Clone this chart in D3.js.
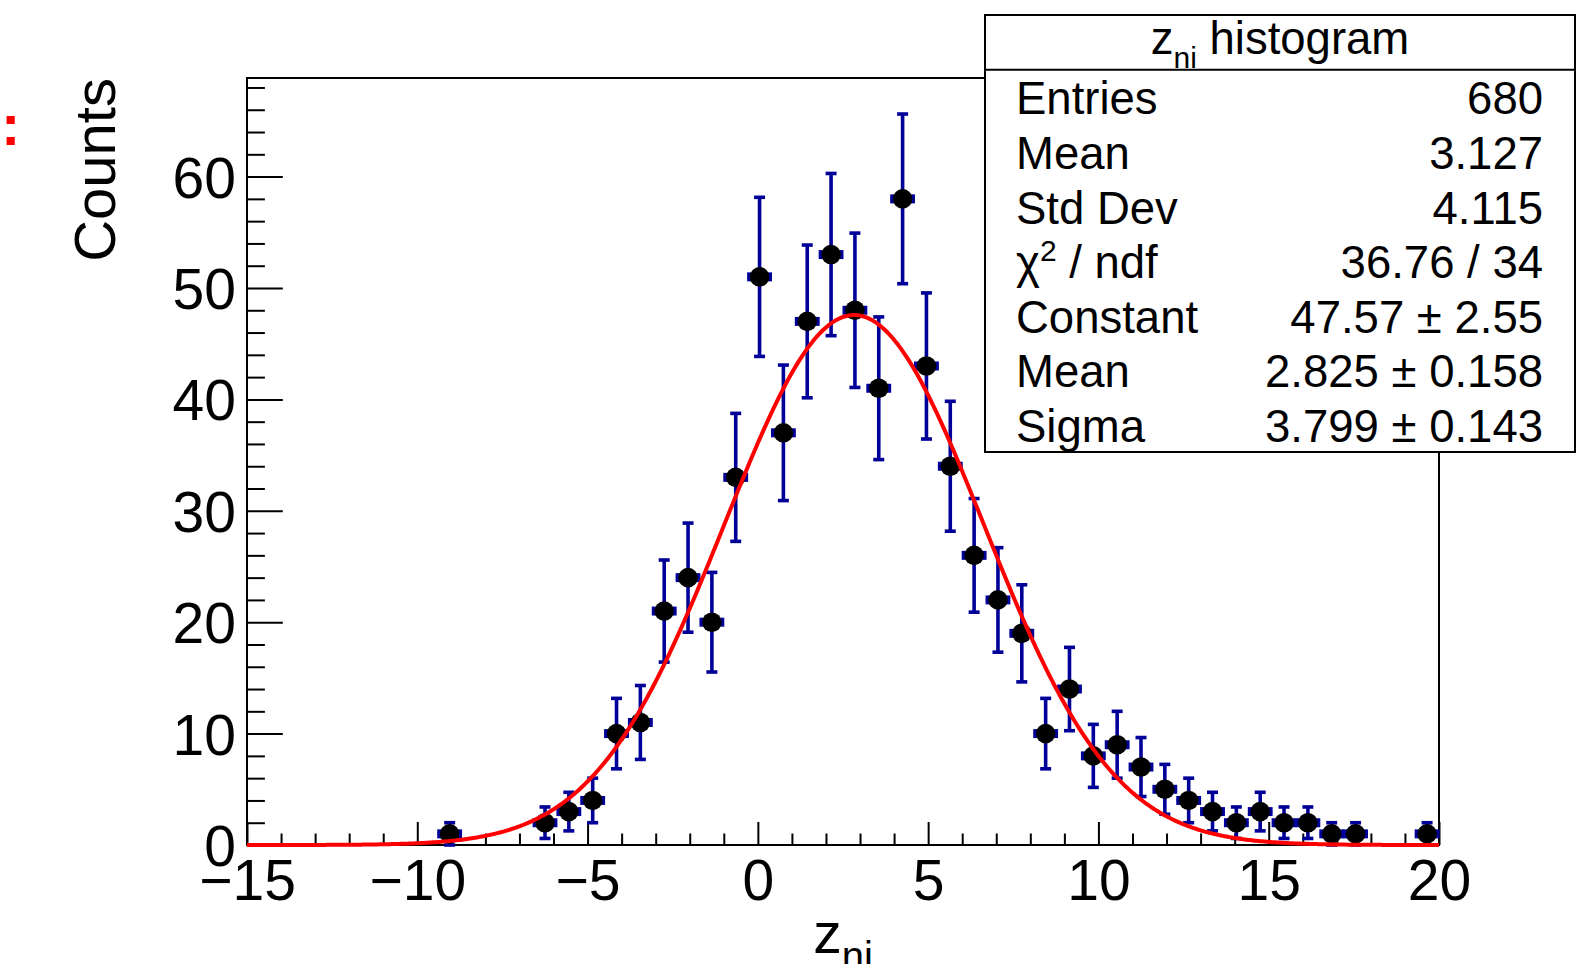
<!DOCTYPE html>
<html>
<head>
<meta charset="utf-8">
<script src="https://cdn.jsdelivr.net/npm/d3@7"></script>
<style>
  body { margin: 0; background: #fff; }
  svg { display: block; font-family: "Liberation Sans", Arial, Helvetica, sans-serif; }
</style>
</head>
<body>
<svg id="chart"></svg>
<script>
const width = 1595;
const height = 964;

// non-empty bins of the histogram (50 bins of width 0.7 on [-15, 20])
const binWidth = 0.7;
const binCenters = [-9.05, -6.25, -5.55, -4.85, -4.15, -3.45, -2.75, -2.05, -1.35, -0.65,
  0.05, 0.75, 1.45, 2.15, 2.85, 3.55, 4.25, 4.95, 5.65, 6.35,
  7.05, 7.75, 8.45, 9.15, 9.85, 10.55, 11.25, 11.95, 12.65, 13.35,
  14.05, 14.75, 15.45, 16.15, 16.85, 17.55, 19.65];
const counts = [1, 2, 3, 4, 10, 11, 21, 24, 20, 33,
  51, 37, 47, 53, 48, 41, 58, 43, 34, 26,
  22, 19, 10, 14, 8, 9, 7, 5, 4, 3,
  2, 3, 2, 2, 1, 1, 1];

// gaus fit
const fitConstant = 47.57;
const fitMean = 2.825;
const fitSigma = 3.799;

const xDomain = [-15, 20];
const yDomain = [0, 68.85];
const xMajorTicks = [-15, -10, -5, 0, 5, 10, 15, 20];
const yMajorTicks = [0, 10, 20, 30, 40, 50, 60];

const statLabels = ["Entries", "Mean", "Std Dev", "χ^2 / ndf", "Constant", "Mean", "Sigma"];
const statValues = ["680", "3.127", "4.115", "36.76 / 34", "47.57 ± 2.55", "2.825 ± 0.158", "3.799 ± 0.143"];

const frame = { left: 247, right: 1439, top: 78, bottom: 845 };
const errColor = "#000099";

const svg = d3.select("#chart")
  .attr("width", width)
  .attr("height", height)
  .attr("viewBox", [0, 0, width, height]);

svg.append("rect").attr("width", width).attr("height", height).attr("fill", "#fff");

const x = d3.scaleLinear().domain(xDomain).range([frame.left, frame.right]);
const y = d3.scaleLinear().domain(yDomain).range([frame.bottom, frame.top]);

// clipped red text at the far left edge
svg.append("text")
  .attr("x", 1).attr("y", 145)
  .attr("font-size", 58).attr("font-weight", "bold")
  .attr("fill", "#ff0000")
  .text(":");

// frame
svg.append("rect")
  .attr("x", frame.left).attr("y", frame.top)
  .attr("width", frame.right - frame.left).attr("height", frame.bottom - frame.top)
  .attr("fill", "none").attr("stroke", "#000").attr("stroke-width", 2);

// x axis
const xMinor = d3.range(-15, 20.001, 1).filter(d => !xMajorTicks.includes(d));
const gxMinor = svg.append("g")
  .attr("transform", `translate(0,${frame.bottom})`)
  .call(d3.axisBottom(x).tickValues(xMinor).tickSize(-11.5).tickFormat(""));
const gx = svg.append("g")
  .attr("transform", `translate(0,${frame.bottom})`)
  .call(d3.axisBottom(x).tickValues(xMajorTicks).tickSizeInner(-23).tickSizeOuter(0));

// y axis
const yMinor = d3.range(0, 68.001, 2).filter(d => !yMajorTicks.includes(d));
const gyMinor = svg.append("g")
  .attr("transform", `translate(${frame.left},0)`)
  .call(d3.axisLeft(y).tickValues(yMinor).tickSize(-17.9).tickFormat(""));
const gy = svg.append("g")
  .attr("transform", `translate(${frame.left},0)`)
  .call(d3.axisLeft(y).tickValues(yMajorTicks).tickSizeInner(-35.8).tickSizeOuter(0));

for (const g of [gx, gy, gxMinor, gyMinor]) {
  g.attr("font-family", null).attr("font-size", null);
  g.select(".domain").remove();
  g.selectAll(".tick line").attr("stroke", "#000").attr("stroke-width", 2);
}
gx.selectAll(".tick text")
  .attr("y", 55).attr("dy", null)
  .attr("font-size", 57).attr("fill", "#000");
gy.selectAll(".tick text")
  .attr("x", -11).attr("dy", "0.36em")
  .attr("font-size", 57).attr("fill", "#000");

// axis titles
const xt = svg.append("text")
  .attr("x", (frame.left + frame.right) / 2).attr("y", 953)
  .attr("text-anchor", "middle").attr("font-size", 57);
xt.append("tspan").text("z");
xt.append("tspan").attr("dy", 17).attr("font-size", 40).text("ni");

svg.append("text")
  .attr("transform", `translate(115,${frame.top}) rotate(-90)`)
  .attr("text-anchor", "end").attr("font-size", 58)
  .text("Counts");

// histogram points with errors
const points = binCenters.map((c, i) => ({ x: c, n: counts[i], err: Math.sqrt(counts[i]) }));
const half = x(binWidth / 2) - x(0);

const gErr = svg.append("g")
  .attr("stroke", errColor).attr("stroke-width", 3.6);

gErr.selectAll(".ev").data(points).join("line")
  .attr("x1", d => x(d.x)).attr("x2", d => x(d.x))
  .attr("y1", d => y(d.n - d.err)).attr("y2", d => y(d.n + d.err));
gErr.selectAll(".cap-top").data(points).join("line")
  .attr("x1", d => x(d.x) - 5.5).attr("x2", d => x(d.x) + 5.5)
  .attr("y1", d => y(d.n + d.err)).attr("y2", d => y(d.n + d.err));
gErr.selectAll(".cap-bot").data(points).join("line")
  .attr("x1", d => x(d.x) - 5.5).attr("x2", d => x(d.x) + 5.5)
  .attr("y1", d => y(d.n - d.err)).attr("y2", d => y(d.n - d.err));
gErr.selectAll(".eh").data(points).join("line")
  .attr("x1", d => x(d.x) - half).attr("x2", d => x(d.x) + half)
  .attr("y1", d => y(d.n)).attr("y2", d => y(d.n));
gErr.selectAll(".cap-l").data(points).join("line")
  .attr("x1", d => x(d.x) - half + 1.5).attr("x2", d => x(d.x) - half + 1.5)
  .attr("y1", d => y(d.n) - 4.5).attr("y2", d => y(d.n) + 4.5)
  .attr("stroke-width", 4);
gErr.selectAll(".cap-r").data(points).join("line")
  .attr("x1", d => x(d.x) + half - 1.5).attr("x2", d => x(d.x) + half - 1.5)
  .attr("y1", d => y(d.n) - 4.5).attr("y2", d => y(d.n) + 4.5)
  .attr("stroke-width", 4);

svg.append("g").selectAll("circle").data(points).join("circle")
  .attr("cx", d => x(d.x)).attr("cy", d => y(d.n))
  .attr("r", 9.8).attr("fill", "#000");

// fitted gaussian
const gauss = v => fitConstant * Math.exp(-0.5 * ((v - fitMean) / fitSigma) ** 2);
const curveX = d3.range(xDomain[0], xDomain[1] + 0.001, 0.05);
svg.append("path")
  .datum(curveX)
  .attr("fill", "none").attr("stroke", "#ff0000").attr("stroke-width", 4)
  .attr("d", d3.line().x(d => x(d)).y(d => y(gauss(d))));

// stats box
const box = { left: 985, right: 1575, top: 15, bottom: 452 };
const rowH = (box.bottom - box.top) / 8;
const statFont = 45.5;
const gStats = svg.append("g");
gStats.append("rect")
  .attr("x", box.left).attr("y", box.top)
  .attr("width", box.right - box.left).attr("height", box.bottom - box.top)
  .attr("fill", "#fff").attr("stroke", "#000").attr("stroke-width", 2);
gStats.append("line")
  .attr("x1", box.left).attr("x2", box.right)
  .attr("y1", box.top + rowH).attr("y2", box.top + rowH)
  .attr("stroke", "#000").attr("stroke-width", 2);

const title = gStats.append("text")
  .attr("x", (box.left + box.right) / 2).attr("y", box.top + 38.5)
  .attr("text-anchor", "middle").attr("font-size", statFont);
title.append("tspan").text("z");
title.append("tspan").attr("dy", 14).attr("font-size", 30).text("ni");
title.append("tspan").attr("dy", -14).text(" histogram");

statLabels.forEach((label, i) => {
  const yy = 114.3 + rowH * i;
  const t = gStats.append("text")
    .attr("x", 1016).attr("y", yy)
    .attr("font-size", statFont);
  const parts = label.split("^");
  if (parts.length > 1) {
    t.append("tspan").text(parts[0]);
    t.append("tspan").attr("dy", -17).attr("font-size", 30).text(parts[1][0]);
    t.append("tspan").attr("dy", 17).text(parts[1].slice(1));
  } else {
    t.text(label);
  }
  gStats.append("text")
    .attr("x", 1543).attr("y", yy)
    .attr("text-anchor", "end").attr("font-size", statFont)
    .text(statValues[i]);
});
</script>
</body>
</html>
